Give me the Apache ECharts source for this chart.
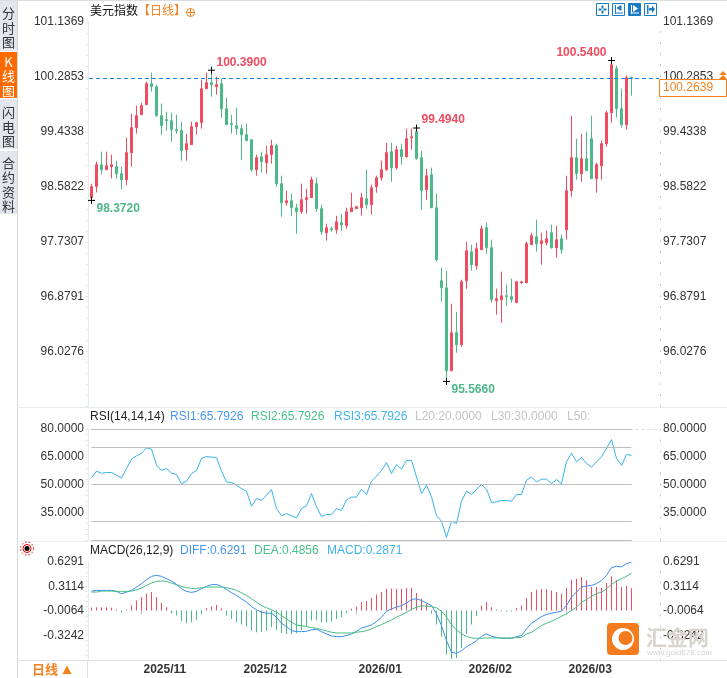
<!DOCTYPE html>
<html>
<head>
<meta charset="utf-8">
<style>
  html, body { margin: 0; padding: 0; background: #fff; }
  #chart { width: 727px; height: 678px; }
</style>
<script src="https://cdn.jsdelivr.net/npm/echarts@6/dist/echarts.min.js"></script>
</head>
<body>
<div id="chart"></div>
<script>
// K线：开 收 低 高
const opens = [
  98.414,98.589,98.925,98.848,98.894,98.894,98.786,98.693,99.112,99.499,
  99.700,99.856,100.181,100.134,99.685,99.623,99.607,99.468,99.453,99.158,
  99.235,99.515,99.577,100.103,100.197,100.134,100.181,99.793,99.561,99.530,
  99.484,99.390,99.313,98.848,99.050,98.956,99.081,99.220,98.631,98.336,
  98.367,98.258,98.196,98.382,98.414,98.631,98.243,97.871,97.933,97.917,
  98.026,97.980,98.196,98.243,98.258,98.398,98.305,98.584,98.723,98.848,
  99.127,98.879,99.158,99.050,99.344,99.437,99.034,98.538,98.770,98.258,
  97.127,97.018,95.731,96.321,96.135,97.127,97.577,97.360,97.608,97.949,
  97.639,96.817,96.832,96.894,96.879,96.786,97.096,97.096,97.685,97.809,
  97.701,97.716,97.871,97.639,97.778,97.918,98.522,99.034,98.786,99.018,
  99.328,98.708,98.910,99.251,99.731,100.414,99.793,99.546,100.280
];
const closes = [
  98.584,98.925,98.848,98.910,98.925,98.786,98.693,99.112,99.499,99.685,
  99.840,100.181,100.134,99.685,99.530,99.607,99.468,99.453,99.142,99.251,
  99.515,99.577,100.103,100.197,100.165,100.165,99.793,99.546,99.546,99.484,
  99.390,99.297,98.848,99.034,98.972,99.081,99.220,98.631,98.336,98.367,
  98.258,98.196,98.382,98.414,98.693,98.243,97.887,97.949,97.917,98.041,
  97.995,98.196,98.258,98.274,98.414,98.305,98.568,98.723,98.848,99.112,
  98.879,99.158,99.050,99.328,99.359,99.018,98.522,98.755,98.258,97.453,
  97.018,95.731,96.321,96.135,97.111,97.592,97.375,97.623,97.933,97.639,
  96.832,96.848,96.894,96.879,96.832,97.111,97.111,97.701,97.825,97.701,
  97.747,97.778,97.639,97.763,97.608,98.522,99.034,98.786,99.018,98.832,
  98.708,98.925,99.251,99.731,100.476,99.793,99.546,100.274,100.2639
];
const lows = [
  98.372,98.496,98.775,98.848,98.713,98.708,98.543,98.605,98.894,99.406,
  99.700,99.856,100.057,99.669,99.390,99.453,99.282,99.406,98.987,98.987,
  99.235,99.390,99.484,100.103,99.980,100.011,99.654,99.546,99.406,99.390,
  99.003,99.297,98.817,98.755,98.801,98.786,98.941,98.584,98.119,98.289,
  98.134,97.855,98.165,98.165,98.414,98.196,97.840,97.748,97.887,97.855,
  97.902,97.933,98.196,98.243,98.134,98.243,98.150,98.491,98.677,98.832,
  98.661,98.848,98.925,99.034,99.158,99.003,98.227,98.382,98.258,97.422,
  96.801,95.566,95.731,96.011,96.104,97.003,97.282,97.298,97.608,97.546,
  96.786,96.599,96.476,96.739,96.786,96.786,97.080,97.096,97.685,97.577,
  97.375,97.670,97.623,97.484,97.546,97.763,98.429,98.693,98.661,98.832,
  98.708,98.491,98.693,99.204,99.577,99.654,99.499,99.468,99.995
];
const highs = [
  98.631,98.972,99.127,99.127,99.081,98.987,98.894,99.345,99.716,99.840,
  99.881,100.212,100.352,100.165,99.871,99.747,99.731,99.700,99.592,99.406,
  99.592,99.592,100.243,100.352,100.390,100.290,100.259,99.964,99.700,99.809,
  99.546,99.561,99.313,99.081,99.127,99.220,99.313,99.251,98.755,98.522,
  98.475,98.320,98.631,98.553,98.739,98.723,98.305,98.011,97.964,98.134,
  98.165,98.258,98.491,98.289,98.491,98.848,98.615,98.755,98.987,99.266,
  99.266,99.220,99.251,99.484,99.484,99.494,99.142,98.863,98.879,98.475,
  97.328,97.282,96.770,96.646,97.142,97.732,97.685,97.716,97.980,98.026,
  97.763,97.003,97.266,97.065,97.158,97.127,97.127,97.732,97.871,98.073,
  97.871,97.902,97.995,97.980,97.840,98.755,99.685,99.328,99.406,99.437,
  99.685,98.956,99.297,99.762,100.540,100.460,100.103,100.305,100.290
];
const rsi = [
  53.6,57.2,56.1,56.5,56.5,55.0,53.6,58.6,63.7,65.5,
  66.9,69.8,69.1,60.5,57.6,58.6,56.1,55.4,50.4,51.8,
  55.9,57.6,64.1,65.1,64.8,64.6,57.2,51.3,51.1,49.6,
  47.8,46.4,38.3,42.4,41.4,44.2,47.3,37.0,33.1,34.3,
  33.1,32.0,37.0,38.5,45.1,37.9,32.7,33.8,33.8,37.0,
  35.9,41.7,43.2,43.2,47.5,44.6,51.8,54.5,57.6,61.9,
  55.9,60.8,58.3,63.0,63.0,54.1,45.1,49.6,43.3,33.1,
  30.2,21.4,30.2,28.9,41.0,46.4,44.6,47.3,50.0,47.5,
  40.3,40.6,41.4,41.4,41.0,44.6,44.6,52.3,54.0,51.4,
  52.9,52.9,50.5,52.7,50.4,62.3,66.8,62.3,64.6,61.4,
  59.4,62.3,65.0,69.5,74.3,64.1,60.3,66.2,65.7926
];
const diff = [
  .252,.261,.261,.261,.261,.248,.217,.239,.261,.304,
  .348,.400,.443,.456,.443,.413,.382,.339,.282,.248,
  .235,.248,.282,.313,.335,.339,.313,.274,.230,.196,
  .152,.109,.052,.009,-.022,-.035,-.035,-.087,-.165,-.209,
  -.261,-.274,-.274,-.269,-.252,-.243,-.274,-.304,-.330,-.339,
  -.339,-.326,-.304,-.269,-.226,-.209,-.187,-.143,-.087,-.009,
  .022,.043,.065,.096,.143,.152,.130,.096,.065,-.043,
  -.196,-.391,-.543,-.556,-.522,-.469,-.435,-.391,-.335,-.304,
  -.335,-.348,-.361,-.361,-.361,-.339,-.326,-.239,-.165,-.122,
  -.078,-.052,-.035,-.022,-.009,.065,.174,.239,.304,.317,
  .326,.348,.391,.456,.556,.574,.565,.608,.6291
];
const dea = [
  .239,.239,.252,.252,.252,.248,.248,.248,.252,.269,
  .291,.326,.356,.378,.382,.378,.356,.335,.313,.296,
  .287,.287,.296,.304,.304,.304,.304,.296,.282,.261,
  .230,.196,.152,.109,.065,.035,.009,-.022,-.065,-.109,
  -.152,-.187,-.196,-.209,-.222,-.230,-.248,-.265,-.282,-.291,
  -.291,-.291,-.291,-.282,-.274,-.261,-.239,-.209,-.183,-.152,
  -.122,-.087,-.056,-.022,.013,.043,.061,.056,.052,.035,
  -.009,-.087,-.183,-.252,-.304,-.335,-.356,-.361,-.361,-.356,
  -.356,-.356,-.356,-.356,-.356,-.352,-.348,-.304,-.282,-.239,
  -.196,-.165,-.139,-.109,-.074,-.043,0,.043,.109,.143,
  .183,.217,.239,.282,.339,.382,.413,.443,.4856
];
const macd = [
  .039,.043,.039,.043,.035,.009,-.026,.004,.065,.130,
  .174,.217,.239,.174,.100,.043,-.035,-.065,-.139,-.161,
  -.152,-.122,-.052,.030,.052,.070,.026,-.065,-.109,-.152,
  -.183,-.209,-.261,-.282,-.274,-.261,-.217,-.252,-.291,-.304,
  -.304,-.296,-.252,-.209,-.130,-.130,-.152,-.152,-.143,-.109,
  -.087,-.035,.022,.052,.109,.122,.161,.209,.239,.282,
  .282,.282,.282,.291,.291,.226,.152,.087,-.043,-.183,
  -.339,-.574,-.630,-.617,-.487,-.304,-.183,-.070,.065,.109,
  .043,.004,-.009,-.009,-.009,.030,.065,.161,.239,.269,
  .278,.278,.261,.239,.217,.291,.400,.413,.435,.391,
  .304,.304,.296,.356,.443,.391,.304,.317,.2871
];

// 刻度
const priceTicks = ['96.0276','96.8791','97.7307','98.5822','99.4338','100.2853','101.1369'];
const rsiTicks = [35, 50, 65, 80];
const rsiLevels = [80, 70, 50, 30, 20];
const macdTicks = ['-0.3242','-0.0064','0.3114','0.6291'];
const monthLabels = ['2025/11','2025/12','2026/01','2026/02','2026/03'];
const monthIndex = [10, 30, 53, 75, 95];

// 高低点标注 [序号, 价格]
const peaks = [
  { i: 0, v: 98.372, up: false },
  { i: 24, v: 100.39, up: true },
  { i: 65, v: 99.494, up: true },
  { i: 71, v: 95.566, up: false },
  { i: 104, v: 100.54, up: true, left: true }
];
const lastPrice = 100.2639;

const RED = '#ee4c60';
const GREEN = '#4db888';
const FONT = 'Liberation Sans, Arial, sans-serif';
const CJK = '"Noto Sans CJK SC", sans-serif';

const SLOTS = 114;
const categories = Array.from({ length: SLOTS }, (_, i) => {
  const k = monthIndex.indexOf(i);
  return k >= 0 ? monthLabels[k] : String(i);
});
const isMonth = i => monthIndex.indexOf(i) >= 0;

const grids = [
  { left: 89, width: 570, top: 22, height: 384.6 },
  { left: 89, width: 570, top: 429, height: 111 },
  { left: 89, width: 570, top: 562, height: 98 }
];

function xAxis(idx, show) {
  return {
    type: 'category', gridIndex: idx, data: categories, boundaryGap: true,
    axisLine: { show: false },
    axisTick: show ? { show: true, alignWithLabel: true, interval: isMonth, length: 4, lineStyle: { color: '#bbb' } } : { show: false },
    axisLabel: show ? {
      show: true, interval: isMonth, align: 'left', margin: 4, padding: [0, 0, 0, 2],
      color: '#333', fontSize: 12, fontWeight: 'bold', fontFamily: FONT, hideOverlap: false
    } : { show: false },
    splitLine: { show: false }
  };
}

function yAxis(idx, side, min, max, ticks, minor, formatter) {
  const right = side === 'right';
  return {
    type: 'value', gridIndex: idx, position: side, min, max, scale: true,
    offset: 1,
    axisLine: { show: true, lineStyle: right ? { color: '#c4c4c4', type: [1, 10] } : { color: '#e6ebee' } },
    axisTick: { show: !right, length: 3, customValues: minor, lineStyle: { color: '#e6ebee' } },
    axisLabel: {
      show: true, customValues: ticks, margin: right ? 3 : 4, formatter,
      color: '#333', fontSize: 12, fontFamily: FONT
    },
    splitLine: { show: false }
  };
}

// 左侧轴上的细刻度，每个大格分五份
function minorTicks(from, step, count) {
  return Array.from({ length: count }, (_, i) => from + step * i);
}

const priceMin = 95.1761;
const priceMax = 101.1369;
const macdMin = -0.642;
const macdMax = 0.6291;
const dashTop = v => ({
  silent: true, symbol: 'none', animation: false,
  data: [{ yAxis: v, lineStyle: { color: '#e4e4e4', type: 'dashed', width: 1 }, label: { show: false } }]
});

const peakPoint = p => ({
  coord: [p.i, p.v],
  symbol: 'path://M0 4H8M4 0V8',
  symbolSize: 7,
  itemStyle: { color: 'none', borderColor: '#000', borderWidth: 1 },
  label: {
    show: true, formatter: p.v.toFixed(4), position: p.left ? 'left' : 'right', distance: 0,
    offset: [p.left ? 1 : -1, p.up ? -8 : 8],
    color: p.up ? RED : GREEN, fontSize: 12, fontWeight: 'bold', fontFamily: FONT
  }
});

const candleSeries = {
  type: 'candlestick', xAxisIndex: 0, yAxisIndex: 0,
  barWidth: 2,
  data: opens.map((o, i) => [o, closes[i], lows[i], highs[i]]),
  itemStyle: { color: RED, color0: GREEN, borderColor: RED, borderColor0: GREEN, borderWidth: 1 },
  markPoint: { silent: true, animation: false, data: peaks.map(peakPoint) },
  markLine: {
    silent: true, symbol: 'none', animation: false,
    data: [
      { yAxis: priceMax, lineStyle: { color: '#e4e4e4', type: 'dashed', width: 1 }, label: { show: false } },
      { yAxis: lastPrice, lineStyle: { color: '#1e7fe0', type: [4, 3], width: 1 }, label: { show: false } }
    ]
  },
  z: 3
};

const rsiSeries = {
  type: 'line', xAxisIndex: 1, yAxisIndex: 2, data: rsi, showSymbol: false,
  lineStyle: { color: '#36b4ea', width: 1 },
  markLine: {
    silent: true, symbol: 'none', animation: false,
    data: [dashTop(80).data[0]].concat(rsiLevels.map(v => [
      { coord: [0, v], lineStyle: { color: '#bdbdbd', type: 'solid', width: 1 }, label: { show: false } },
      { coord: [108, v] }
    ]))
  }
};

const macdSeries = {
  type: 'bar', xAxisIndex: 2, yAxisIndex: 4, barWidth: 1, barMinHeight: 1,
  data: macd.map(v => ({ value: v, itemStyle: { color: v >= 0 ? RED : GREEN } })),
  markLine: dashTop(macdMax)
};
const diffSeries = {
  type: 'line', xAxisIndex: 2, yAxisIndex: 4, data: diff, showSymbol: false,
  lineStyle: { color: '#3a8df0', width: 1 }, z: 4
};
const deaSeries = {
  type: 'line', xAxisIndex: 2, yAxisIndex: 4, data: dea, showSymbol: false,
  lineStyle: { color: '#45bd84', width: 1 }, z: 4
};

// 页面外框、标题、图例等
function txt(x, y, text, fill, size, extra, z) {
  return {
    type: 'text', x, y, z: z || 20, silent: true,
    style: Object.assign({ text, fill, fontSize: size, fontFamily: FONT, verticalAlign: 'middle' }, extra || {})
  };
}
function box(x, y, w, h, fill, extra) {
  return Object.assign({ type: 'rect', z: 15, silent: true, shape: { x, y, width: w, height: h }, style: { fill } }, extra || {});
}
function hline(x1, x2, y, color) {
  return { type: 'line', z: 16, silent: true, shape: { x1, y1: y, x2, y2: y }, style: { stroke: color, lineWidth: 1 } };
}
function vline(x, y1, y2, color) {
  return { type: 'line', z: 16, silent: true, shape: { x1: x, y1, x2: x, y2 }, style: { stroke: color, lineWidth: 1 } };
}
function tab(y, h, cy, label, active) {
  return [
    box(0, y, 17, h, active ? '#ff6a00' : '#e4e6ed'),
    txt(8.5, cy, label, active ? '#fff' : '#333', 13, {
      fontFamily: CJK, align: 'center', lineHeight: 14.5
    })
  ];
}
// 工具栏小按钮
function toolBtn(x, glyph, active) {
  const c = active ? '#fff' : '#1a7cc4';
  const btn = [
    box(x + 0.5, 3.5, 12, 12, active ? '#1a7cc4' : '#fff', { style: { fill: active ? '#1a7cc4' : '#fff', stroke: '#1a7cc4', lineWidth: 1 } })
  ];
  if (glyph === 'cross') {
    btn.push(box(x + 5.5, 5.5, 2, 3, c), box(x + 5.5, 10.5, 2, 3, c), box(x + 2.5, 8.5, 3, 2, c), box(x + 7.5, 8.5, 3, 2, c));
  } else if (glyph === 'left') {
    btn.push(box(x + 3, 5, 1, 9, c), box(x + 3, 12.5, 8, 1, c), box(x + 8, 5.5, 1.5, 5, c),
      { type: 'polygon', z: 17, silent: true, shape: { points: [[x + 4.5, 8], [x + 8, 5.5], [x + 8, 10.5]] }, style: { fill: c } });
  } else if (glyph === 'play') {
    btn.push(box(x + 3, 5, 1, 9, c), box(x + 3, 12.5, 8, 1, c),
      { type: 'polygon', z: 17, silent: true, shape: { points: [[x + 5, 5], [x + 10, 8.5], [x + 5, 12]] }, style: { fill: c } });
  } else {
    btn.push(box(x + 3, 5, 1.5, 9, c), box(x + 5, 8, 3, 2.5, c),
      { type: 'polygon', z: 17, silent: true, shape: { points: [[x + 8, 5.5], [x + 11, 9.2], [x + 8, 13]] }, style: { fill: c } });
  }
  return btn;
}

const graphics = [
  hline(0, 727, 0.5, '#dcdce2'),
  vline(17.5, 0, 678, '#d6d6de'),
  hline(18, 727, 407.5, '#e8eef0'),
  hline(18, 727, 541.5, '#e8eef0'),
  hline(18, 727, 660.5, '#dde2e6'),
  vline(87.5, 660, 678, '#dde2e6'),
  ...tab(0, 51, 28, '分\n时\n图'),
  ...tab(52, 46, 76.5, 'K\n线\n图', true),
  ...tab(99, 50, 127, '闪\n电\n图'),
  ...tab(151, 63, 184.5, '合\n约\n资\n料'),
  txt(90, 10, '美元指数', '#111', 12, { fontFamily: CJK }),
  txt(138, 10, '【日线】', '#f58220', 12, { fontFamily: CJK }),
  { type: 'circle', z: 20, silent: true, shape: { cx: 190.5, cy: 12.5, r: 4 }, style: { fill: 'none', stroke: '#f58220', lineWidth: 1 } },
  hline(186.5, 194.5, 12.5, '#f58220'),
  vline(190.5, 8.5, 16.5, '#f58220'),
  ...toolBtn(596, 'cross'),
  ...toolBtn(612, 'left'),
  ...toolBtn(628, 'play', true),
  ...toolBtn(644, 'right'),
  // 最新价
  box(659.5, 79.5, 67, 17, '#fff', { z: 30, style: { fill: '#fff', stroke: '#f58220', lineWidth: 1 } }),
  txt(663, 88, lastPrice.toFixed(4), '#f58220', 12, null, 31),
  { type: 'polygon', z: 31, silent: true, shape: { points: [[719, 75], [723, 71], [727, 75]] }, style: { fill: '#f58220' } },
  { type: 'polygon', z: 31, silent: true, shape: { points: [[719, 79], [723, 75], [727, 79]] }, style: { fill: '#f58220' } },
  // 副图图例
  txt(90, 416.5, 'RSI(14,14,14)', '#222', 12),
  txt(170, 416.5, 'RSI1:65.7926', '#4a98f0', 12),
  txt(251, 416.5, 'RSI2:65.7926', '#4cc08c', 12),
  txt(334, 416.5, 'RSI3:65.7926', '#3fb4ea', 12),
  txt(415, 416.5, 'L20:20.0000', '#c4c4c4', 12),
  txt(491, 416.5, 'L30:30.0000', '#c4c4c4', 12),
  txt(567, 416.5, 'L50:', '#c4c4c4', 12),
  txt(90, 550.5, 'MACD(26,12,9)', '#222', 12),
  txt(180, 550.5, 'DIFF:0.6291', '#4a98f0', 12),
  txt(254, 550.5, 'DEA:0.4856', '#4cc08c', 12),
  txt(327, 550.5, 'MACD:0.2871', '#3fb4ea', 12),
  // 小太阳
  { type: 'circle', z: 20, silent: true, shape: { cx: 27, cy: 548.5, r: 2.5 }, style: { fill: '#000' } },
  { type: 'circle', z: 20, silent: true, shape: { cx: 27, cy: 548.5, r: 4 }, style: { fill: 'none', stroke: '#e00', lineWidth: 1 } },
  { type: 'circle', z: 20, silent: true, shape: { cx: 27, cy: 548.5, r: 6.5 }, style: { fill: 'none', stroke: '#e00', lineWidth: 1, lineDash: [1.5, 2] } },
  // 左下角周期
  txt(32, 669.5, '日线', '#f58220', 13, { fontFamily: CJK, fontWeight: 'bold' }),
  { type: 'polygon', z: 20, silent: true, shape: { points: [[62.5, 674], [67, 665.5], [71.5, 674]] }, style: { fill: '#f58220' } },
  // 水印
  box(607, 623, 32, 32, '#f47b1e', { z: 25, shape: { x: 607, y: 623, width: 32, height: 32, r: 4 } }),
  { type: 'circle', z: 26, silent: true, shape: { cx: 623, cy: 639, r: 11 }, style: { fill: '#fff' } },
  { type: 'circle', z: 27, silent: true, shape: { cx: 625.5, cy: 638, r: 7 }, style: { fill: '#f47b1e' } },
  txt(646, 637, '汇金网', '#d9d4cd', 21, { fontFamily: CJK, fontWeight: 'bold' }, 26),
  txt(647, 652.5, 'www.gold678.com', '#d4d4d4', 8, null, 26)
];

const chart = echarts.init(document.getElementById('chart'));
chart.setOption({
  animation: false,
  backgroundColor: '#fff',
  grid: grids,
  xAxis: [xAxis(0, false), xAxis(1, false), xAxis(2, true)],
  yAxis: [
    yAxis(0, 'left', priceMin, priceMax, priceTicks.map(Number), minorTicks(priceMin, 0.8515 / 5, 36), v => v.toFixed(4)),
    yAxis(0, 'right', priceMin, priceMax, priceTicks.map(Number), [], v => v.toFixed(4)),
    yAxis(1, 'left', 20, 80, rsiTicks, minorTicks(20, 3, 21), v => v.toFixed(4)),
    yAxis(1, 'right', 20, 80, rsiTicks, [], v => v.toFixed(4)),
    yAxis(2, 'left', macdMin, macdMax, macdTicks.map(Number), minorTicks(macdMin, 0.3178 / 5, 21), v => v.toFixed(4)),
    yAxis(2, 'right', macdMin, macdMax, macdTicks.map(Number), [], v => v.toFixed(4))
  ],
  series: [candleSeries, rsiSeries, macdSeries, diffSeries, deaSeries],
  graphic: graphics
});
</script>
</body>
</html>
